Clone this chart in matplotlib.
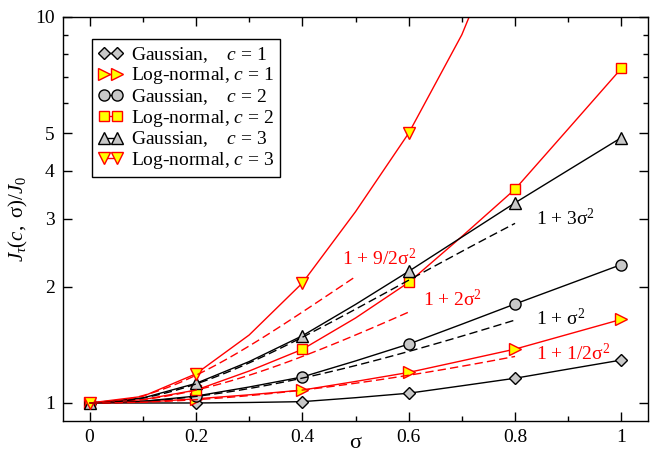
import numpy as np
import matplotlib
matplotlib.use("Agg")
import matplotlib.pyplot as plt
from matplotlib.ticker import FixedLocator, NullFormatter, FixedFormatter

plt.rcParams['font.family'] = ['Liberation Serif', 'DejaVu Serif']
plt.rcParams['mathtext.fontset'] = 'custom'
plt.rcParams['mathtext.rm'] = 'Liberation Serif'
plt.rcParams['mathtext.it'] = 'Liberation Serif:italic'
plt.rcParams['font.size'] = 14

# sigma grid of the curves (markers every 0.2)
sigma = [0.0, 0.1, 0.2, 0.3, 0.4, 0.5, 0.6, 0.7, 0.8, 0.9, 1.0]

gauss_c1 = [1.0, 1.0, 1.0, 1.003, 1.008, 1.032, 1.06, 1.108, 1.159, 1.224, 1.292]
lognorm_c1 = [1.0, 1.005, 1.025, 1.05, 1.08, 1.137, 1.2, 1.286, 1.379, 1.507, 1.647]
gauss_c2 = [1.0, 1.01, 1.042, 1.10, 1.168, 1.285, 1.421, 1.60, 1.805, 2.03, 2.284]
lognorm_c2 = [1.0, 1.02, 1.08, 1.21, 1.377, 1.66, 2.053, 2.70, 3.58, 5.13, 7.36]
gauss_c3 = [1.0, 1.03, 1.124, 1.28, 1.493, 1.80, 2.193, 2.69, 3.30, 4.01, 4.87]
lognorm_c3 = [1.0, 1.04, 1.19, 1.50, 2.045, 3.13, 5.0, 9.0, 19.5, 40.0, 80.0]

# small-sigma approximations 1 + k*sigma^2
approx_k = [4.5, 2.0, 3.0, 1.0, 0.5]
approx_end = [0.5, 0.6, 0.8, 0.8, 0.8]
approx_color = ['red', 'red', 'black', 'black', 'red']
approx_text = [r'1 + 9/2σ$^2$', r'1 + 2σ$^2$', r'1 + 3σ$^2$', r'1 + σ$^2$', r'1 + 1/2σ$^2$']
text_xy = [(0.474, 2.37), (0.627, 1.85), (0.839, 3.01), (0.839, 1.66), (0.839, 1.347)]

fig = plt.figure(figsize=(6.51, 4.53), dpi=100)
ax = fig.add_axes([0.0968, 0.0706, 0.8986, 0.8919])

gray = '#c8c8c8'
yel = '#ffff00'
series = [
    (gauss_c1, 'D', 'black', gray, 6, 'Gaussian,    $c$ = 1'),
    (lognorm_c1, '>', 'red', yel, 8, 'Log-normal, $c$ = 1'),
    (gauss_c2, 'o', 'black', gray, 8, 'Gaussian,    $c$ = 2'),
    (lognorm_c2, 's', 'red', yel, 7, 'Log-normal, $c$ = 2'),
    (gauss_c3, '^', 'black', gray, 8, 'Gaussian,    $c$ = 3'),
    (lognorm_c3, 'v', 'red', yel, 8, 'Log-normal, $c$ = 3'),
]
for vals, mk, col, fc, ms, lab in series:
    ax.plot(sigma, vals, color=col, lw=1.0, marker=mk, markevery=2, ms=ms,
            mfc=fc, mec=col, mew=1.0, label=lab)

for k, end, col in zip(approx_k, approx_end, approx_color):
    s = np.linspace(0, end, 60)
    ax.plot(s, 1 + k * s**2, color=col, lw=1.0, ls=(0, (6, 3)))

for t, (tx, ty), col in zip(approx_text, text_xy, approx_color):
    ax.text(tx, ty, t, color=col, fontsize=14, va='center', ha='left')

ax.set_yscale('log')
ax.set_xlim(-0.05, 1.05)
ax.set_ylim(0.898, 10)
ax.set_xticks([0, 0.2, 0.4, 0.6, 0.8, 1.0])
ax.set_xticklabels(['0', '0.2', '0.4', '0.6', '0.8', '1'])
ax.set_xticks([0.1, 0.3, 0.5, 0.7, 0.9], minor=True)
ax.yaxis.set_major_locator(FixedLocator([1, 2, 3, 4, 5, 10]))
ax.yaxis.set_major_formatter(FixedFormatter(['1', '2', '3', '4', '5', '10']))
ax.yaxis.set_minor_locator(FixedLocator([6, 7, 8, 9]))
ax.yaxis.set_minor_formatter(NullFormatter())
ax.tick_params(which='both', direction='in', top=True, right=True, width=1.0, labelsize=14)
ax.tick_params(which='major', length=6.5, pad=6)
ax.tick_params(which='minor', length=3.3)
for sp in ax.spines.values():
    sp.set_linewidth(1.0)

ax.set_xlabel('σ', fontsize=16, labelpad=-9)
ax.set_ylabel(r'$J_{\tau}(c,\ $σ$)/J_0$', fontsize=15, labelpad=4)

leg = ax.legend(loc='upper left', bbox_to_anchor=(0.0496, 0.9455), borderaxespad=0,
                fancybox=False, edgecolor='black', framealpha=1, fontsize=14,
                handlelength=1.3, handletextpad=0.4, labelspacing=0.04, borderpad=0.3,
                numpoints=2)
leg.get_frame().set_linewidth(1.0)

fig.savefig('out.png', dpi=100)
